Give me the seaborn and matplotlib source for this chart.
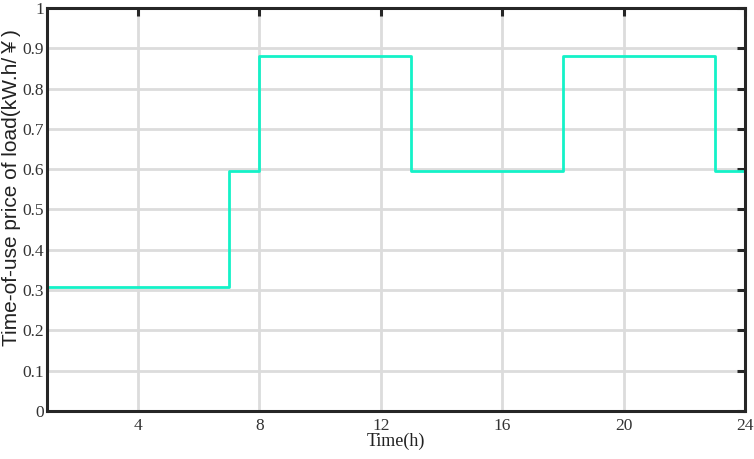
import numpy as np
import pandas as pd
import matplotlib
matplotlib.use("Agg")
import matplotlib.pyplot as plt
import seaborn as sns

# hourly time-of-use price
hours = list(range(1, 25))
price = [0.308] * 6 + [0.595] + [0.88] * 5 + [0.595] * 5 + [0.88] * 5 + [0.595] * 2
xticks = [4, 8, 12, 16, 20, 24]
yticks = [0, 0.1, 0.2, 0.3, 0.4, 0.5, 0.6, 0.7, 0.8, 0.9, 1]

df = pd.DataFrame({"hour": hours, "price": price})

sns.set_style("whitegrid", {"grid.color": "#dcdcdc", "axes.edgecolor": "#262626"})

fig = plt.figure(figsize=(7.54, 4.59), dpi=100)
ax = fig.add_axes([0.0623, 0.1046, 0.9257, 0.878])

sns.lineplot(data=df, x="hour", y="price", ax=ax, color="#14F2C8",
             linewidth=2, drawstyle="steps-post")

ax.set_xlim(1, 24)
ax.set_ylim(0, 1)
ax.set_xticks(xticks)
ax.set_yticks(yticks)
ax.set_yticklabels(["0", "0.1", "0.2", "0.3", "0.4", "0.5", "0.6", "0.7", "0.8", "0.9", "1"])
ax.grid(True, linewidth=2, color="#dcdcdc")
for s in ax.spines.values():
    s.set_linewidth(2.2)
    s.set_color("#262626")
    s.set_visible(True)
ax.tick_params(direction="in", length=6, width=2.2, color="#262626",
               top=True, right=True, labelsize=12.5, labelcolor="#333333")
ax.tick_params(axis="x", pad=5)
ax.tick_params(axis="y", pad=2)
for lab in ax.get_xticklabels() + ax.get_yticklabels():
    lab.set_family("Liberation Serif")

ax.set_xlabel("Time(h)", fontsize=13, family="Liberation Serif", color="#222222", labelpad=-1)
ax.set_ylabel("Time-of-use price of load(kW.h/￥)", fontsize=15, color="#222222")
ax.yaxis.label.set_family(["Liberation Sans", "Noto Sans CJK SC"])
ax.yaxis.set_label_coords(-0.037, 0.555)

fig.savefig("out.png", dpi=100)
